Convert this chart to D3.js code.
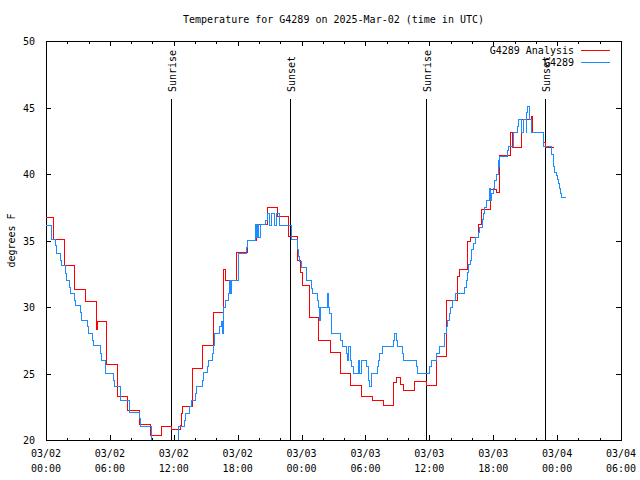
<!DOCTYPE html>
<html><head><meta charset="utf-8">
<script src="https://cdn.jsdelivr.net/npm/d3@7"></script>
<style>
body{margin:0;background:#fff}
text{font-family:"DejaVu Sans Mono","Liberation Mono",monospace;font-size:10px;fill:#000}
</style>
</head><body>
<svg id="c" width="640" height="480"></svg>
<script>
const title = "Temperature for G4289 on 2025-Mar-02 (time in UTC)";
const yLabel = "degrees F";
const xTickHours = [0, 6, 12, 18, 24, 30, 36, 42, 48, 54];
const xTickDates = ["03/02","03/02","03/02","03/02","03/03","03/03","03/03","03/03","03/04","03/04"];
const xTickTimes = ["00:00","06:00","12:00","18:00","00:00","06:00","12:00","18:00","00:00","06:00"];
const xMinorHours = [2,4,8,10,14,16,20,22,26,28,32,34,38,40,44,46,50,52];
const yTicks = [20, 25, 30, 35, 40, 45, 50];
const seriesNames = ["G4289 Analysis", "G4289"];
const seriesColors = ["#ff0000", "#1a8cff"];
const sunHours = [11.83, 23.0, 35.77, 46.95];
const sunNames = ["Sunrise", "Sunset", "Sunrise", "Sunset"];

// Analysis (hourly, step)
const redHours = [-0.3,0.7,1.75,2.7,3.7,4.75,4.8,5.7,6.7,7.7,8.8,9.8,10.8,11.75,12.65,12.72,12.78,13.77,14.7,15.7,16.7,16.85,17.85,18.9,19.8,20.8,21.75,22.75,23.65,23.9,24.05,24.7,25.6,26.7,27.7,28.6,29.6,30.7,31.67,32.6,32.9,33.3,33.6,34.65,35.7,36.7,37.6,38.6,38.8,39.6,39.9,40.6,40.9,41.7,42.3,42.6,43.6,43.8,44.7,45.55,45.7,46.7,46.9,47.7];
const redTemps = [36.7,35.1,33.1,31.3,30.4,28.3,28.9,25.7,23.3,22.2,21.2,20.35,21.0,20.8,21.1,22.0,22.5,25.4,27.1,29.6,32.8,32.0,34.1,35.0,36.2,37.5,36.8,35.3,33.5,32.6,31.6,29.2,27.5,26.6,25.0,24.1,23.3,23.0,22.6,24.3,24.7,24.2,23.7,24.4,24.1,26.3,30.5,32.3,32.8,34.9,35.2,36.2,37.35,38.8,38.6,41.4,43.1,42.0,44.1,44.3,43.1,42.4,42.0,42.0];

// Observations (step)
const blueHours = [0,0.47,0.55,0.9,0.95,1.37,1.45,1.85,1.95,2.2,2.27,2.69,2.75,3.26,3.32,3.9,3.98,4.4,4.45,5.1,5.2,5.57,6.3,6.45,6.95,7.8,8.76,8.85,9.95,12.4,13.0,13.1,13.5,13.7,14.0,14.1,14.7,14.8,15.15,15.25,15.6,15.7,15.85,16.3,16.45,16.6,16.67,16.87,17.1,17.2,17.35,17.45,18.05,18.8,18.9,19.7,19.8,19.9,20.0,20.1,20.66,20.78,21.0,21.15,21.5,21.6,21.9,23.07,23.6,23.7,23.8,24.0,24.5,24.9,25.05,25.5,25.6,25.65,25.75,26.45,26.55,26.65,26.8,27.7,27.8,28.2,28.3,28.45,28.55,28.7,28.85,29.35,29.45,29.6,30.1,30.25,30.3,30.4,30.6,31.1,31.2,31.35,31.6,32.6,32.75,32.9,33.0,33.46,33.55,34.8,34.9,36.06,36.2,36.7,36.95,37.4,37.6,37.7,37.9,38.0,38.15,38.45,39.3,39.45,39.55,39.7,39.85,40.0,40.15,40.3,40.6,40.75,40.95,41.05,41.2,41.35,41.65,41.75,41.85,42.05,42.15,42.3,42.45,42.55,42.6,43.3,43.4,43.9,44.3,44.4,44.7,44.8,45.1,45.15,45.2,45.4,45.6,46.7,46.75,47.5,47.65,47.8,47.9,48.0,48.1,48.2,48.35,48.45,48.8];
const blueTemps = [36.1,35.6,35.1,34.6,34.0,33.5,33.1,32.5,32.0,31.5,31.0,30.5,30.1,29.6,29.0,28.5,28.0,27.5,27.1,26.5,26.0,25.0,24.5,24.0,23.0,22.1,21.6,21.0,19.5,21.0,21.5,22.0,22.5,23.0,23.5,24.0,24.5,25.1,25.5,26.0,26.5,27.1,28.0,28.5,28.9,28.0,30.0,30.5,31.0,32.0,31.0,32.0,34.0,34.5,35.0,36.2,35.2,36.2,35.2,36.2,36.5,37.0,36.1,37.0,36.1,37.0,36.1,35.1,34.3,33.8,33.4,33.0,32.0,31.4,31.0,30.5,30.0,29.0,30.0,31.0,30.0,29.5,28.0,27.5,27.0,26.5,26.0,27.0,26.0,25.5,25.0,26.0,25.0,26.0,25.5,25.0,24.5,24.0,25.0,25.5,26.0,26.5,27.0,27.5,28.0,27.5,27.0,26.5,26.0,25.5,25.0,25.5,26.0,26.5,27.0,28.0,28.5,29.0,29.5,30.0,30.5,31.0,31.5,32.0,32.6,33.2,33.5,34.3,34.8,35.2,35.6,36.0,36.6,37.0,37.5,38.0,38.9,38.0,38.5,38.9,39.5,40.0,41.0,40.6,41.3,41.8,42.1,43.1,43.6,44.1,43.1,44.1,43.1,44.6,45.1,44.1,43.1,42.6,42.1,41.5,40.6,40.1,39.9,39.6,39.3,38.9,38.5,38.2,38.2];

const W = 640, H = 480;
const L = 46, R = 621, T = 41, B = 440;
const svg = d3.select("#c");
svg.append("rect").attr("width", W).attr("height", H).attr("fill", "#fff");

const x = d3.scaleLinear().domain([0, 54]).range([L, R]);
const y = d3.scaleLinear().domain([20, 50]).range([B, T]);

svg.append("defs").append("clipPath").attr("id", "clip")
  .append("rect").attr("x", L).attr("y", T).attr("width", R - L).attr("height", B - T);

// axes: ticks inward, mirrored
svg.append("g").attr("transform", `translate(0,${B})`)
  .call(d3.axisBottom(x).tickValues(xTickHours).tickSizeInner(-5).tickSizeOuter(0).tickFormat(() => ""));
svg.append("g").attr("transform", `translate(0,${B})`)
  .call(d3.axisBottom(x).tickValues(xMinorHours).tickSizeInner(-2.5).tickSizeOuter(0).tickFormat(() => ""));
svg.append("g").attr("transform", `translate(0,${T})`)
  .call(d3.axisTop(x).tickValues(xTickHours).tickSizeInner(-5).tickSizeOuter(0).tickFormat(() => ""));
svg.append("g").attr("transform", `translate(0,${T})`)
  .call(d3.axisTop(x).tickValues(xMinorHours).tickSizeInner(-2.5).tickSizeOuter(0).tickFormat(() => ""));
const gy = svg.append("g").attr("transform", `translate(${L},0)`)
  .call(d3.axisLeft(y).tickValues(yTicks).tickSizeInner(-5).tickSizeOuter(0).tickPadding(11).tickFormat(d3.format("d")));
svg.append("g").attr("transform", `translate(${R},0)`)
  .call(d3.axisRight(y).tickValues(yTicks).tickSizeInner(-5).tickSizeOuter(0).tickFormat(() => ""));
svg.selectAll(".domain").remove();
svg.selectAll(".tick line").attr("stroke", "#000").attr("shape-rendering", "crispEdges");
gy.selectAll("text").attr("font-size", 10).attr("font-family", null).attr("dy", "0.35em");

// two-line x tick labels
xTickHours.forEach((h, i) => {
  const t = svg.append("text").attr("text-anchor", "middle")
    .attr("x", x(h)).attr("y", 457);
  t.append("tspan").attr("x", x(h)).text(xTickDates[i]);
  t.append("tspan").attr("x", x(h)).attr("dy", 15).text(xTickTimes[i]);
});

// frame
svg.append("rect").attr("x", L).attr("y", T).attr("width", R - L).attr("height", B - T)
  .attr("fill", "none").attr("stroke", "#000").attr("shape-rendering", "crispEdges");

// title, y label
svg.append("text").attr("x", (L + R) / 2).attr("y", 23).attr("text-anchor", "middle").text(title);
svg.append("text").attr("transform", `translate(15,${(T + B) / 2}) rotate(-90)`)
  .attr("text-anchor", "middle").text(yLabel);

// sunrise/sunset lines and labels
sunHours.forEach((h, i) => {
  svg.append("line").attr("x1", x(h)).attr("x2", x(h)).attr("y1", 99).attr("y2", B)
    .attr("stroke", "#000").attr("stroke-width", 1).attr("shape-rendering", "crispEdges");
  svg.append("text").attr("transform", `translate(${x(h) + 4},92) rotate(-90)`)
    .attr("text-anchor", "start").text(sunNames[i]);
});

// series
const line = d3.line().curve(d3.curveStepAfter).x(d => x(d[0])).y(d => y(d[1]));
const plotG = svg.append("g").attr("clip-path", "url(#clip)");
const series = [
  d3.zip(redHours, redTemps),
  d3.zip(blueHours, blueTemps)
];
series.forEach((s, i) => {
  plotG.append("path").datum(s).attr("d", line).attr("fill", "none")
    .attr("stroke", seriesColors[i]).attr("stroke-width", 1)
    .attr("shape-rendering", "crispEdges");
});

// legend
seriesNames.forEach((n, i) => {
  const ly = 50 + i * 12.5;
  svg.append("text").attr("x", 574).attr("y", ly).attr("dy", "0.35em")
    .attr("text-anchor", "end").text(n);
  svg.append("line").attr("x1", 581).attr("x2", 610).attr("y1", ly).attr("y2", ly)
    .attr("stroke", seriesColors[i]).attr("stroke-width", 1).attr("shape-rendering", "crispEdges");
});
</script>
</body></html>
